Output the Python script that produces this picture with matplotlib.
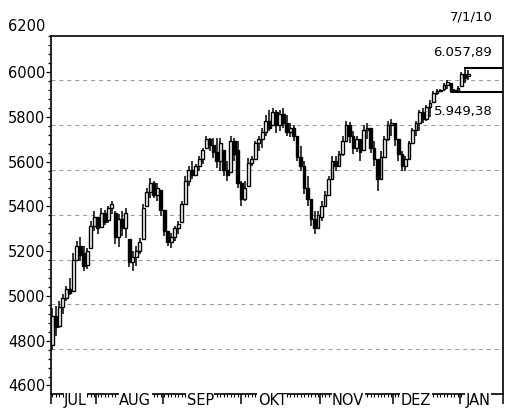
import numpy as np
import matplotlib
matplotlib.use("Agg")
import matplotlib.pyplot as plt

# Tageskerzen (Juli 2009 - 7.1.2010)
opens = [4820, 4950, 4905, 4990, 5030, 5070, 5060, 5200, 5260, 5230,
         5175, 5250, 5350, 5390, 5345, 5410, 5375, 5430, 5410, 5300,
         5380, 5340, 5290, 5190, 5210, 5240, 5290, 5440, 5500, 5540,
         5490, 5510, 5420, 5330, 5280, 5300, 5340, 5370, 5450, 5550,
         5600, 5580, 5620, 5650, 5700, 5740, 5710, 5680, 5640, 5690,
         5600, 5590, 5730, 5690, 5540, 5470, 5530, 5630, 5650, 5720,
         5740, 5770, 5820, 5800, 5860, 5800, 5850, 5810, 5770, 5790,
         5750, 5660, 5620, 5520, 5470, 5380, 5340, 5390, 5440, 5490,
         5560, 5640, 5620, 5670, 5730, 5800, 5750, 5700, 5740, 5690,
         5780, 5790, 5700, 5650, 5560, 5660, 5740, 5800, 5810, 5740,
         5670, 5620, 5650, 5720, 5780, 5810, 5860, 5830, 5880, 5905,
         5945, 5955, 5960, 5980, 5990, 5955, 5957, 5975, 6030, 6020]
highs = [4985, 4995, 5017, 5048, 5084, 5119, 5230, 5285, 5300, 5262,
         5250, 5374, 5419, 5387, 5430, 5420, 5440, 5464, 5419, 5405,
         5419, 5430, 5285, 5240, 5262, 5297, 5450, 5522, 5566, 5553,
         5540, 5508, 5419, 5330, 5320, 5352, 5374, 5464, 5575, 5620,
         5642, 5628, 5665, 5700, 5754, 5745, 5745, 5745, 5745, 5687,
         5642, 5754, 5745, 5732, 5553, 5553, 5655, 5665, 5732, 5754,
         5790, 5844, 5866, 5879, 5866, 5866, 5875, 5844, 5808, 5799,
         5732, 5709, 5642, 5575, 5464, 5419, 5419, 5464, 5508, 5575,
         5665, 5665, 5687, 5754, 5821, 5816, 5776, 5754, 5732, 5799,
         5808, 5776, 5732, 5642, 5687, 5754, 5821, 5830, 5790, 5732,
         5687, 5665, 5732, 5790, 5821, 5870, 5875, 5890, 5911, 5951,
         5964, 5960, 5987, 6000, 5990, 5960, 5975, 6040, 6058, 6045]
lows = [4795, 4860, 4896, 4958, 5017, 5040, 5119, 5195, 5195, 5151,
        5160, 5285, 5330, 5315, 5340, 5355, 5362, 5405, 5270, 5255,
        5307, 5297, 5165, 5151, 5173, 5227, 5297, 5450, 5475, 5475,
        5464, 5397, 5307, 5262, 5252, 5285, 5316, 5387, 5464, 5531,
        5562, 5585, 5598, 5628, 5700, 5687, 5655, 5610, 5598, 5575,
        5553, 5642, 5642, 5522, 5441, 5464, 5575, 5620, 5665, 5687,
        5700, 5754, 5776, 5799, 5764, 5776, 5786, 5754, 5746, 5732,
        5642, 5598, 5495, 5441, 5352, 5316, 5340, 5374, 5441, 5486,
        5575, 5598, 5620, 5665, 5732, 5719, 5672, 5680, 5642, 5709,
        5740, 5678, 5620, 5508, 5598, 5665, 5732, 5754, 5709, 5642,
        5598, 5598, 5665, 5732, 5754, 5776, 5808, 5821, 5835, 5900,
        5933, 5950, 5955, 5964, 5942, 5949, 5955, 5970, 5990, 6000]
closes = [4950, 4900, 4990, 5030, 5070, 5050, 5200, 5260, 5220, 5170,
          5240, 5350, 5390, 5340, 5410, 5370, 5430, 5450, 5300, 5380,
          5340, 5410, 5190, 5210, 5240, 5280, 5430, 5500, 5540, 5490,
          5520, 5420, 5330, 5280, 5300, 5340, 5360, 5450, 5550, 5600,
          5580, 5620, 5650, 5690, 5740, 5710, 5680, 5640, 5720, 5600,
          5580, 5730, 5670, 5540, 5470, 5520, 5630, 5650, 5720, 5740,
          5770, 5820, 5790, 5860, 5800, 5850, 5810, 5770, 5790, 5750,
          5660, 5620, 5520, 5470, 5380, 5340, 5400, 5440, 5490, 5560,
          5640, 5620, 5670, 5730, 5800, 5750, 5700, 5740, 5680, 5780,
          5790, 5700, 5650, 5560, 5660, 5740, 5800, 5810, 5740, 5670,
          5620, 5650, 5720, 5780, 5810, 5860, 5830, 5880, 5900, 5945,
          5955, 5958, 5980, 5995, 5955, 5957, 5965, 6030, 6010, 6030]

months = ["JUL", "AUG", "SEP", "OKT", "NOV", "DEZ", "JAN"]
month_label_pos = [6.6, 23.7, 42.3, 62.9, 84.6, 104.0, 121.7]
month_edges = [12.5, 31.5, 54.0, 76.5, 97.5, 116.5]
y_labels = [4600, 4800, 5000, 5200, 5400, 5600, 5800, 6000]
grid_levels = [4800, 5000, 5200, 5400, 5600, 5800, 6000]
hi_mark = 6057.89
lo_mark = 5949.38
date_text = "7/1/10"

x = np.arange(len(closes))
o = np.array(opens)
c = np.array(closes)

fig = plt.figure(figsize=(5.22, 4.08), dpi=100)
ax_h = 358.3
ax = fig.add_axes([51 / 522, 1 - 394 / 408, 452 / 522, ax_h / 408])
ax.set_xlim(-0.4, 128.9)
ax.set_ylim(4600, 6200)

for g in grid_levels:
    ax.axhline(g, color="#9a9a9a", lw=0.75, ls=(0, (3.8, 3.8)), zorder=1)

# Kerzen
ax.vlines(x, lows, highs, color="black", lw=1.1, zorder=3)
body_lo = np.minimum(o, c)
body_h = np.maximum(np.abs(c - o), 2)
face = ["white" if cc >= oo else "black" for oo, cc in zip(o, c)]
ax.bar(x, body_h, bottom=body_lo, width=0.8, color=face,
       edgecolor="black", linewidth=1.0, zorder=4)

# Marken rechts
i_hi = int(np.argmax(highs))
i_lo = 115
ax.hlines(hi_mark, i_hi - 0.3, 128.9, color="black", lw=1.5, zorder=5)
ax.hlines(lo_mark, i_lo - 0.8, 128.9, color="black", lw=1.5, zorder=5)
ax.text(125.8, 6124, "6.057,89", ha="right", va="center", fontsize=9.5)
ax.text(126.0, 5862, "5.949,38", ha="right", va="center", fontsize=9.5)

# y-Achse (Beschriftung leicht nach oben versetzt wie im Original)
off = 38
ax.set_yticks([v + off for v in y_labels])
ax.set_yticklabels([str(v) for v in y_labels], fontsize=10.5)
ax.set_yticks([4600 + off + 40 * k for k in range(40) if 4600 + off + 40 * k < 6200],
              minor=True)
ax.tick_params(axis="y", which="major", direction="out", length=3.5, width=0.9, pad=0.5)
ax.tick_params(axis="y", which="minor", direction="out", length=2.5, width=0.9)
ax.text(-0.012, 6200 + off + 2, "6200", transform=ax.get_yaxis_transform(),
        ha="right", va="center", fontsize=10.5, clip_on=False)

# x-Achse
ax.set_xticks([-0.4] + month_edges + [128.9])
ax.set_xticklabels([])
ax.set_xticks(x, minor=True)
ax.tick_params(axis="x", which="major", direction="out", length=7, width=1.1)
ax.tick_params(axis="x", which="minor", direction="out", length=2.5, width=0.8)
for lab, p in zip(months, month_label_pos):
    ax.text(p, -11 / ax_h, lab, transform=ax.get_xaxis_transform(), ha="center",
            va="baseline", fontsize=10.5, clip_on=False, zorder=6,
            bbox=dict(facecolor="white", edgecolor="none", pad=0.3))

for s in ax.spines.values():
    s.set_linewidth(1.2)
    s.set_color("black")

fig.text(493 / 522, 1 - 17 / 408, date_text, ha="right", va="center", fontsize=9.5)

fig.savefig("out.png", dpi=100)
